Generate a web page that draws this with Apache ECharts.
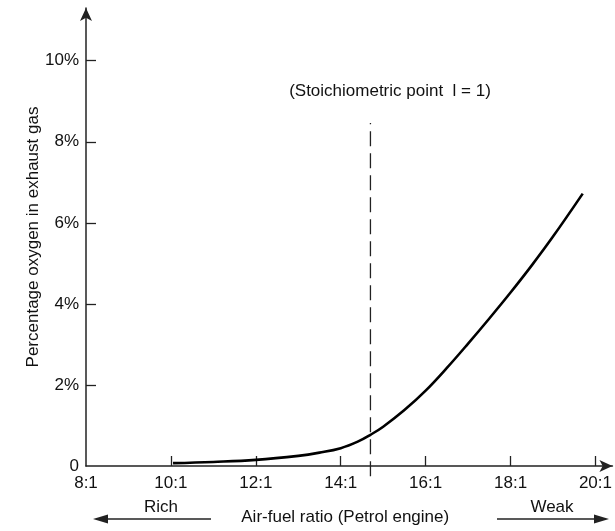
<!DOCTYPE html>
<html>
<head>
<meta charset="utf-8">
<script src="https://cdn.jsdelivr.net/npm/echarts@6/dist/echarts.min.js"></script>
<style>html,body{margin:0;padding:0;background:#fff}#c{width:615px;height:531px}</style>
</head>
<body>
<div id="c"></div>
<script>
// Air-fuel ratio (x:1) and percentage oxygen in exhaust gas
const ratio  = [10.05, 11, 12, 13, 13.5, 14, 14.4, 14.7, 15, 15.5, 16, 16.5, 17, 17.5, 18, 18.5, 19, 19.7];
const oxygen = [0.07, 0.10, 0.15, 0.25, 0.33, 0.44, 0.60, 0.77, 0.97, 1.38, 1.86, 2.42, 3.02, 3.64, 4.28, 4.95, 5.66, 6.72];
const xTickValues = [10, 12, 14, 16, 18, 20];
const xLabelValues = [8, 10, 12, 14, 16, 18, 20];
const yTickValues = [2, 4, 6, 8, 10];
const yLabelValues = [0, 2, 4, 6, 8, 10];
const stoichRatio = 14.7;
const stoichRange = [-0.25, 8.46];

const FONT = '"Liberation Sans", Arial, Helvetica, sans-serif';
const TXT = '#111';
const AX = '#222';

const chart = echarts.init(document.getElementById('c'), null, {renderer: 'canvas'});
chart.setOption({
  animation: false,
  backgroundColor: '#fff',
  grid: {left: 86, top: 8, right: 1.3, bottom: 64.7, containLabel: false},
  xAxis: {
    type: 'value', min: 8, max: 20.4, interval: 2,
    axisLine: {show: true, symbol: ['none', 'arrow'], symbolSize: [9, 13],
      lineStyle: {color: AX, width: 1.5}},
    axisTick: {show: true, inside: true, length: 10, customValues: xTickValues, lineStyle: {color: AX, width: 1.3}},
    axisLabel: {customValues: xLabelValues, formatter: v => v + ':1', color: TXT, fontFamily: FONT, fontSize: 17, margin: 9},
    splitLine: {show: false},
    name: 'Air-fuel ratio (Petrol engine)', nameLocation: 'middle', nameGap: 43, nameMoveOverlap: false,
    nameTextStyle: {color: TXT, fontFamily: FONT, fontSize: 17, padding: [0, 8, 0, 0]}
  },
  yAxis: {
    type: 'value', min: 0, max: 11.3, interval: 2,
    axisLine: {show: true, symbol: ['none', 'arrow'], symbolSize: [9, 13], lineStyle: {color: AX, width: 1.5}},
    axisTick: {show: true, inside: true, length: 10, customValues: yTickValues, lineStyle: {color: AX, width: 1.3}},
    axisLabel: {customValues: yLabelValues, formatter: v => v === 0 ? '0' : v + '%', color: TXT, fontFamily: FONT, fontSize: 17, margin: 7},
    splitLine: {show: false},
    name: 'Percentage oxygen in exhaust gas', nameLocation: 'middle', nameGap: 44, nameMoveOverlap: false,
    nameTextStyle: {color: TXT, fontFamily: FONT, fontSize: 17, padding: [0, 0, 0, 0]}
  },
  series: [
    {
      type: 'line', data: ratio.map((r, i) => [r, oxygen[i]]),
      smooth: 0.4, showSymbol: false, symbol: 'none',
      lineStyle: {color: '#000', width: 2.6}
    },
    {
      type: 'line', data: stoichRange.map(v => [stoichRatio, v]), clip: false,
      showSymbol: false, symbol: 'none',
      lineStyle: {color: '#222', width: 1.3, type: [15, 7]}
    }
  ],
  graphic: [
    {type: 'text', style: {text: '(Stoichiometric point  l = 1)', font: '17px ' + FONT, fill: TXT, x: 390, y: 91, align: 'center', verticalAlign: 'middle'}},
    {type: 'text', style: {text: 'Rich', font: '17px ' + FONT, fill: TXT, x: 161, y: 507, align: 'center', verticalAlign: 'middle'}},
    {type: 'text', style: {text: 'Weak', font: '17px ' + FONT, fill: TXT, x: 552, y: 507, align: 'center', verticalAlign: 'middle'}},
    {type: 'line', shape: {x1: 211, y1: 519, x2: 104, y2: 519}, style: {stroke: AX, lineWidth: 1.5}},
    {type: 'polygon', shape: {points: [[93, 519], [108, 514.5], [108, 523.5]]}, style: {fill: AX}},
    {type: 'line', shape: {x1: 497, y1: 519, x2: 598, y2: 519}, style: {stroke: AX, lineWidth: 1.5}},
    {type: 'polygon', shape: {points: [[609, 519], [594, 514.5], [594, 523.5]]}, style: {fill: AX}}
  ]
});
</script>
</body>
</html>
